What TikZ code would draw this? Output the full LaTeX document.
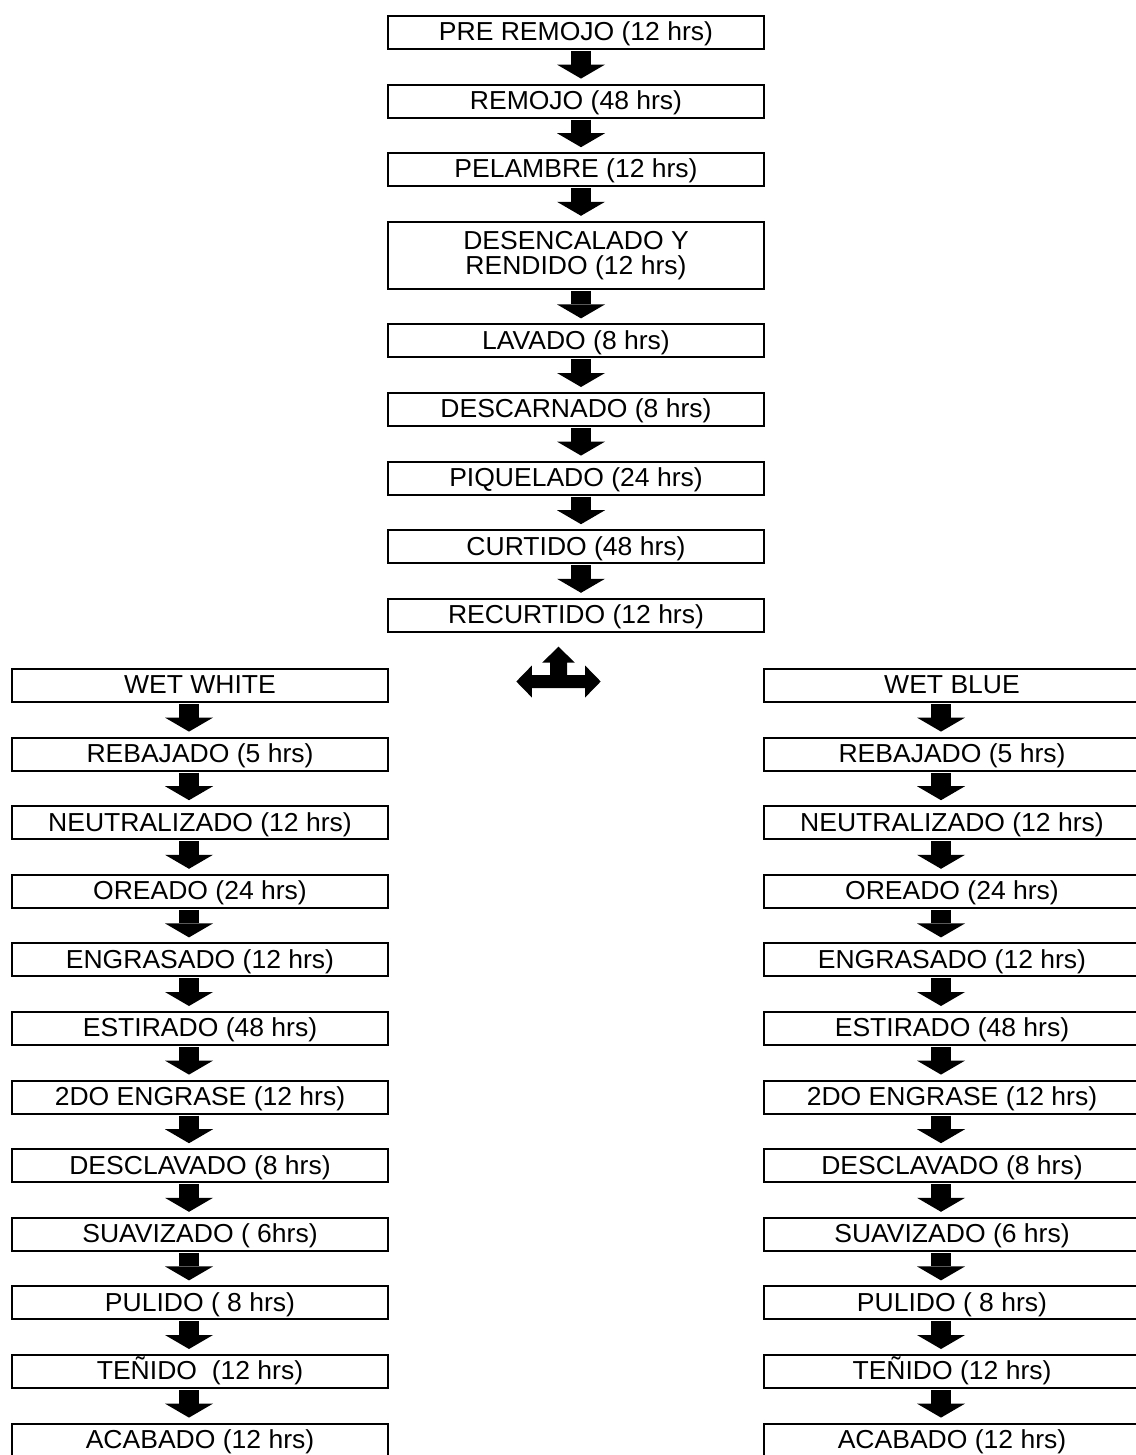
\documentclass[tikz,border=0pt]{standalone}
\usepackage{fontspec}
\setmainfont{Liberation Sans}[FakeStretch=1.02]
\usetikzlibrary{arrows.meta, positioning}

\begin{document}
\begin{tikzpicture}[node distance=17.8pt, >={Triangle[width=24pt, length=7pt, line width=0pt]},
  every node/.style={draw, line width=1pt, minimum width=188pt, minimum height=16.5pt, inner sep=1pt, outer sep=0pt,
    text height=9.3pt, text depth=1pt, align=center, font=\fontsize{13}{12.5}\selectfont},
  flow/.style={->, line width=10pt, shorten <=1pt, shorten >=3pt},
  flowC/.style={flow, transform canvas={xshift=2.5pt}},
  flowS/.style={flow, transform canvas={xshift=-5.5pt}}]
\useasboundingbox (0,0) rectangle (567.5pt,-727.5pt);

% main line
\node (C1) at (288pt,-16.25pt) {PRE REMOJO (12 hrs)};
\node (C2) [below=of C1] {REMOJO (48 hrs)};
\node (C3) [below=of C2] {PELAMBRE (12 hrs)};
\node (C4) [below=of C3, minimum height=33.5pt, text height=, text depth=] {DESENCALADO Y\\RENDIDO (12 hrs)};
\node (C5) [below=of C4] {LAVADO (8 hrs)};
\node (C6) [below=of C5] {DESCARNADO (8 hrs)};
\node (C7) [below=of C6] {PIQUELADO (24 hrs)};
\node (C8) [below=of C7] {CURTIDO (48 hrs)};
\node (C9) [below=of C8] {RECURTIDO (12 hrs)};

\draw[flowC] (C1) -- (C2);
\draw[flowC] (C2) -- (C3);
\draw[flowC] (C3) -- (C4);
\draw[flowC] (C4) -- (C5);
\draw[flowC] (C5) -- (C6);
\draw[flowC] (C6) -- (C7);
\draw[flowC] (C7) -- (C8);
\draw[flowC] (C8) -- (C9);

% split
\coordinate (fork) at (279.25pt,-340.75pt);
\fill[shift={(fork)}] (-21.1pt,0) -- (-13.3pt,8pt) -- (-13.3pt,3.25pt) -- (-4.25pt,3.25pt)
  -- (-4.25pt,9.4pt) -- (-8.2pt,9.4pt) -- (0,17.4pt) -- (8.2pt,9.4pt) -- (4.25pt,9.4pt)
  -- (4.25pt,3.25pt) -- (13.3pt,3.25pt) -- (13.3pt,8pt) -- (21.1pt,0) -- (13.3pt,-8pt)
  -- (13.3pt,-3.25pt) -- (-13.3pt,-3.25pt) -- (-13.3pt,-8pt) -- cycle;

% wet white
\node (L1) [below=18.6pt of C9.south west, anchor=north east] {WET WHITE};
\node (L2) [below=of L1] {REBAJADO (5 hrs)};
\node (L3) [below=of L2] {NEUTRALIZADO (12 hrs)};
\node (L4) [below=of L3] {OREADO (24 hrs)};
\node (L5) [below=of L4] {ENGRASADO (12 hrs)};
\node (L6) [below=of L5] {ESTIRADO (48 hrs)};
\node (L7) [below=of L6] {2DO ENGRASE (12 hrs)};
\node (L8) [below=of L7] {DESCLAVADO (8 hrs)};
\node (L9) [below=of L8] {SUAVIZADO ( 6hrs)};
\node (L10) [below=of L9] {PULIDO ( 8 hrs)};
\node (L11) [below=of L10] {TEÑIDO~ (12 hrs)};
\node (L12) [below=of L11] {ACABADO (12 hrs)};

\draw[flowS] (L1) -- (L2);
\draw[flowS] (L2) -- (L3);
\draw[flowS] (L3) -- (L4);
\draw[flowS] (L4) -- (L5);
\draw[flowS] (L5) -- (L6);
\draw[flowS] (L6) -- (L7);
\draw[flowS] (L7) -- (L8);
\draw[flowS] (L8) -- (L9);
\draw[flowS] (L9) -- (L10);
\draw[flowS] (L10) -- (L11);
\draw[flowS] (L11) -- (L12);

% wet blue
\node (R1) [below=18.6pt of C9.south east, anchor=north west] {WET BLUE};
\node (R2) [below=of R1] {REBAJADO (5 hrs)};
\node (R3) [below=of R2] {NEUTRALIZADO (12 hrs)};
\node (R4) [below=of R3] {OREADO (24 hrs)};
\node (R5) [below=of R4] {ENGRASADO (12 hrs)};
\node (R6) [below=of R5] {ESTIRADO (48 hrs)};
\node (R7) [below=of R6] {2DO ENGRASE (12 hrs)};
\node (R8) [below=of R7] {DESCLAVADO (8 hrs)};
\node (R9) [below=of R8] {SUAVIZADO (6 hrs)};
\node (R10) [below=of R9] {PULIDO ( 8 hrs)};
\node (R11) [below=of R10] {TEÑIDO (12 hrs)};
\node (R12) [below=of R11] {ACABADO (12 hrs)};

\draw[flowS] (R1) -- (R2);
\draw[flowS] (R2) -- (R3);
\draw[flowS] (R3) -- (R4);
\draw[flowS] (R4) -- (R5);
\draw[flowS] (R5) -- (R6);
\draw[flowS] (R6) -- (R7);
\draw[flowS] (R7) -- (R8);
\draw[flowS] (R8) -- (R9);
\draw[flowS] (R9) -- (R10);
\draw[flowS] (R10) -- (R11);
\draw[flowS] (R11) -- (R12);
\end{tikzpicture}
\end{document}
